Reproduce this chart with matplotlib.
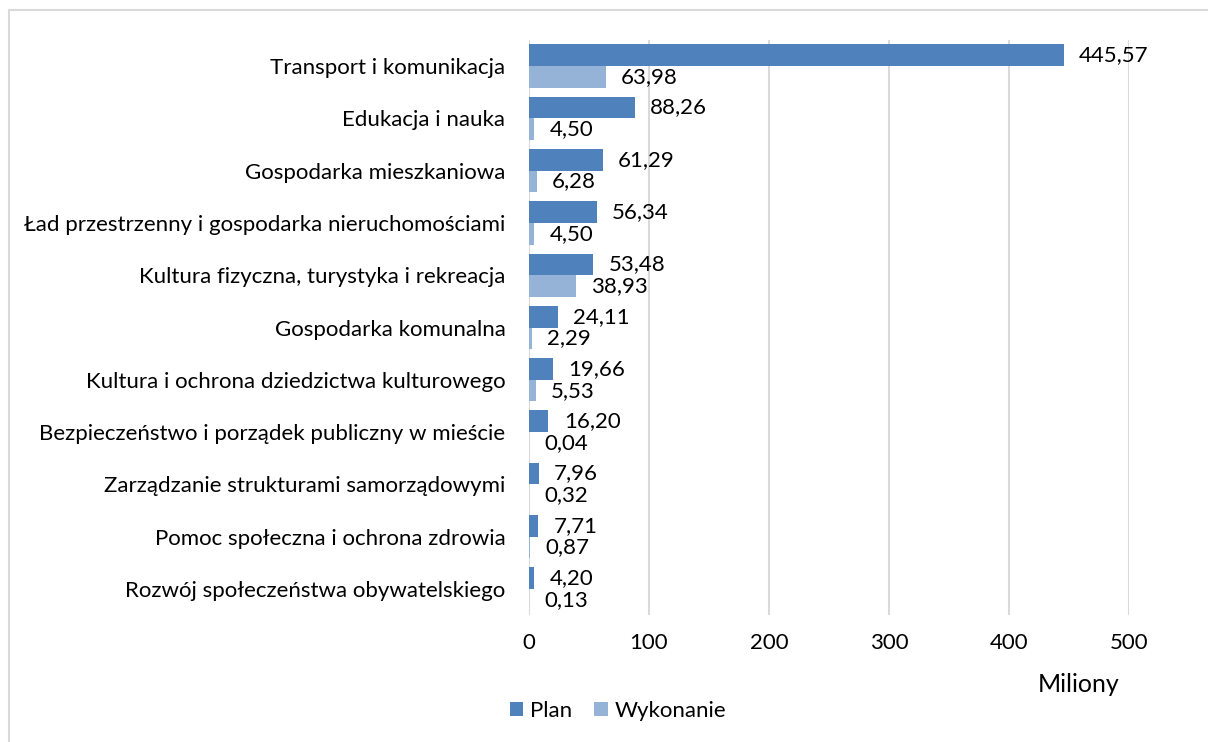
import matplotlib
matplotlib.use("Agg")
import matplotlib.pyplot as plt
from matplotlib.patches import Rectangle
import numpy as np

categories = [
    "Transport i komunikacja",
    "Edukacja i nauka",
    "Gospodarka mieszkaniowa",
    "Ład przestrzenny i gospodarka nieruchomościami",
    "Kultura fizyczna, turystyka i rekreacja",
    "Gospodarka komunalna",
    "Kultura i ochrona dziedzictwa kulturowego",
    "Bezpieczeństwo i porządek publiczny w mieście",
    "Zarządzanie strukturami samorządowymi",
    "Pomoc społeczna i ochrona zdrowia",
    "Rozwój społeczeństwa obywatelskiego",
]
plan = [445.57, 88.26, 61.29, 56.34, 53.48, 24.11, 19.66, 16.20, 7.96, 7.71, 4.20]
wykonanie = [63.98, 4.50, 6.28, 4.50, 38.93, 2.29, 5.53, 0.04, 0.32, 0.87, 0.13]
xticks = [0, 100, 200, 300, 400, 500]

plt.rcParams['font.family'] = ['Lato', 'DejaVu Sans']

W, H = 1208, 742
fig = plt.figure(figsize=(W / 100, H / 100), dpi=100)
fig.patches.append(Rectangle((9 / W, -0.1), 1.2, (H - 10) / H + 0.1,
                             transform=fig.transFigure, fill=False,
                             edgecolor="#D9D9D9", linewidth=1.5))

ax = fig.add_axes([529 / W, (H - 615) / H, (1129 - 529) / W, (615 - 40) / H])

n = len(categories)
y = np.arange(n)
bh = 0.415
c_plan = "#4F81BD"
c_wyk = "#95B3D7"
ax.barh(y - bh / 2, plan, height=bh, color=c_plan, label="Plan", zorder=3)
ax.barh(y + bh / 2, wykonanie, height=bh, color=c_wyk, label="Wykonanie", zorder=3)

fs = 16
for yi, v in zip(y, plan):
    ax.annotate(f"{v:.2f}".replace(".", ","), (v, yi - bh / 2), xytext=(11, 0),
                textcoords="offset points", va="center", ha="left", fontsize=fs)
for yi, v in zip(y, wykonanie):
    ax.annotate(f"{v:.2f}".replace(".", ","), (v, yi + bh / 2), xytext=(11, 0),
                textcoords="offset points", va="center", ha="left", fontsize=fs)

ax.set_ylim(n - 0.5, -0.5)
ax.set_xlim(0, 500)
ax.set_yticks(y)
ax.set_yticklabels(categories, fontsize=fs)
ax.set_xticks(xticks)
ax.set_xticklabels([str(t) for t in xticks], fontsize=fs)
ax.tick_params(length=0)
ax.tick_params(axis="x", pad=13)
ax.tick_params(axis="y", pad=17)
for s in ax.spines.values():
    s.set_visible(False)
ax.xaxis.grid(True, color="#D9D9D9", linewidth=1.5, zorder=0)
ax.set_axisbelow(True)

fig.text(1120 / W, 1 - 685 / H, "Miliony", ha="right", va="center", fontsize=18)

leg = fig.legend(loc="center", bbox_to_anchor=(618 / W, 1 - 711 / H), ncol=2,
                 frameon=False, fontsize=fs, handlelength=0.6, handleheight=0.6,
                 handletextpad=0.3, columnspacing=1.0)

fig.savefig("out.png", dpi=100)
